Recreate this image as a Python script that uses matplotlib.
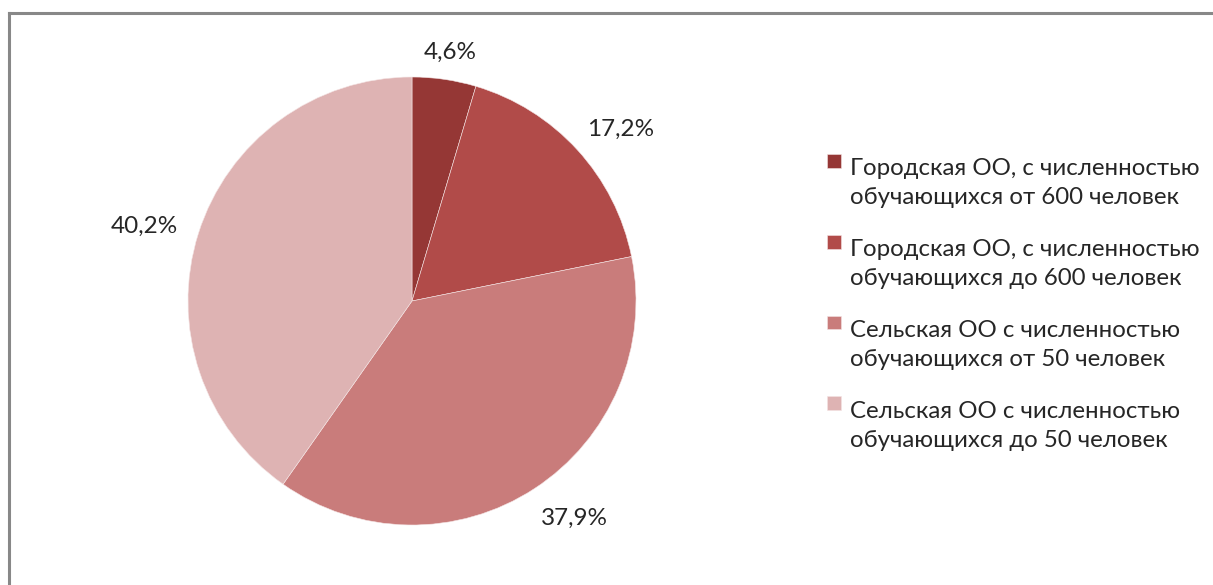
import numpy as np
import matplotlib.pyplot as plt
from matplotlib.lines import Line2D
from matplotlib.patches import Rectangle
from matplotlib.legend_handler import HandlerPatch

categories = [
    "Городская ОО, с численностью\nобучающихся от 600 человек",
    "Городская ОО, с численностью\nобучающихся до 600 человек",
    "Сельская ОО с численностью\nобучающихся от 50 человек",
    "Сельская ОО с численностью\nобучающихся до 50 человек",
]
shares = [4.6, 17.2, 37.9, 40.2]
colors = ["#953735", "#B14B49", "#C97C7B", "#DEB3B3"]

# label placement (radius factor, angle shift in degrees)
label_dist = [1.125, 1.205, 1.21, 1.24]
label_shift = [-0.4, -2.9, 3.7, 2.0]

plt.rcParams['font.family'] = ['Lato', 'DejaVu Sans']

W, H = 1213, 585
fig = plt.figure(figsize=(W / 100, H / 100), dpi=100)

# pie axes: centre (412, 301) px, radius 224 px
cx, cy, r = 412, 301, 224
ax = fig.add_axes([(cx - r) / W, (H - cy - r) / H, 2 * r / W, 2 * r / H])
wedges, _ = ax.pie(shares, colors=colors, startangle=90, counterclock=False,
                   radius=1, wedgeprops=dict(linewidth=0.4, edgecolor='#f4e4e4'))
ax.set_xlim(-1, 1)
ax.set_ylim(-1, 1)
ax.set_aspect('equal')
ax.axis('off')

for w, v, d, s in zip(wedges, shares, label_dist, label_shift):
    ang = np.deg2rad((w.theta1 + w.theta2) / 2 + s)
    ax.text(d * np.cos(ang), d * np.sin(ang), f"{v:.1f}%".replace('.', ','),
            ha='center', va='center', fontsize=17.5, color='#262626', clip_on=False)

# chart frame (only top and left visible)
fig.add_artist(Line2D([9 / W, 9 / W], [0, 1 - 13 / H], color='#888888', lw=2.2,
                      transform=fig.transFigure))
fig.add_artist(Line2D([9 / W, 1], [1 - 13 / H, 1 - 13 / H], color='#888888', lw=2.2,
                      transform=fig.transFigure))


def top_square(legend, orig_handle, xdescent, ydescent, width, height, fontsize):
    # square marker aligned with the first text line
    side = 0.58 * fontsize
    return Rectangle((-xdescent, -ydescent + 0.95 * fontsize), side, side)


leg = fig.legend(wedges, categories, loc='upper left',
                 bbox_to_anchor=(808 / W, 1 - 139 / H), frameon=False,
                 fontsize=17.3, handlelength=0.58, handleheight=0.58,
                 handletextpad=0.38, labelspacing=1.3, borderpad=0.3,
                 handler_map={type(wedges[0]): HandlerPatch(patch_func=top_square)})
for t in leg.get_texts():
    t.set_linespacing(1.45)
    t.set_color('#262626')

fig.savefig('out.png', dpi=100)
